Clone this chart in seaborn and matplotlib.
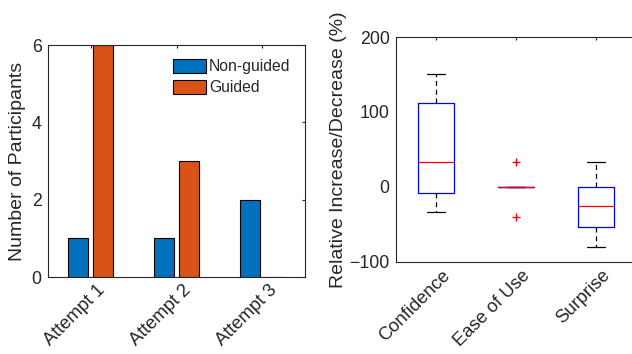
import numpy as np
import pandas as pd
import matplotlib
matplotlib.use('Agg')
import matplotlib.pyplot as plt
import matplotlib.transforms as mtrans
import seaborn as sns

# bar chart data (participants per attempt)
attempts = ['Attempt 1', 'Attempt 2', 'Attempt 3']
non_guided = [1, 1, 2]
guided = [6, 3, 0]

# box plot data (relative change, %)
measures = ['Confidence', 'Ease of Use', 'Surprise']
confidence = [-33.3, -25.0, -16.7, 16.7, 33.3, 33.3, 100.0, 116.7, 150.0, 150.0]
ease_of_use = [-40.0, 0, 0, 0, 0, 0, 0, 0, 0, 33.3]
surprise = [-80.0, -66.7, -57.1, -40.0, -25.0, -25.0, 0, 0, 25.0, 33.3]

sns.set_style('white')
plt.rcParams['font.family'] = ['Liberation Sans', 'DejaVu Sans']
axis_col = '#262626'

fig = plt.figure(figsize=(6.32, 3.54), dpi=100)
ax1 = fig.add_axes([48 / 632, 1 - 277 / 354, 257 / 632, 232 / 354])
ax2 = fig.add_axes([396 / 632, 1 - 262 / 354, 240 / 632, 225 / 354])

# 1. grouped bars
bar_df = pd.DataFrame({
    'attempt': attempts * 2,
    'count': non_guided + guided,
    'group': ['Non-guided'] * 3 + ['Guided'] * 3,
})
sns.barplot(data=bar_df, x='attempt', y='count', hue='group',
            palette=['#0072BD', '#D95319'], saturation=1,
            width=0.58, gap=0.2, edgecolor='black', linewidth=0.8, ax=ax1)
old = ax1.get_legend()
handles = old.legend_handles
labels = [t.get_text() for t in old.get_texts()]
ax1.legend(handles, labels, loc='upper left', bbox_to_anchor=(0.486, 0.94),
           frameon=False, borderpad=0, borderaxespad=0, handlelength=2.1,
           handleheight=1.0, handletextpad=0.2, labelspacing=0.35, fontsize=11.3)
ax1.set_xlim(-0.5, 2.5)
ax1.set_ylim(0, 6)
ax1.set_yticks([0, 2, 4, 6])
ax1.set_xlabel('')
ax1.set_ylabel('Number of Participants', fontsize=14, color=axis_col)

# 2. box plot
box_df = pd.DataFrame({
    'measure': np.repeat(measures, 10),
    'value': confidence + ease_of_use + surprise,
})
sns.boxplot(data=box_df, x='measure', y='value', ax=ax2, fill=False,
            width=0.45, whis=1.5, linewidth=0.9,
            boxprops=dict(color='blue'),
            medianprops=dict(color='red'),
            whiskerprops=dict(color='black', linestyle=(0, (4, 3))),
            capprops=dict(color='black'),
            flierprops=dict(marker='+', markeredgecolor='red', markersize=6))
ax2.set_xlim(-0.5, 2.5)
ax2.set_ylim(-100, 200)
ax2.set_yticks([-100, 0, 100, 200])
ax2.set_xlabel('')
ax2.set_ylabel('Relative Increase/Decrease (%)', fontsize=14, color=axis_col,
               labelpad=2)

shift = mtrans.ScaledTranslation(6 / 100, 0, fig.dpi_scale_trans)
for ax in (ax1, ax2):
    for s in ax.spines.values():
        s.set_visible(True)
        s.set_color(axis_col)
        s.set_linewidth(0.8)
    ax.tick_params(direction='in', length=2.5, width=0.8, top=True, right=True,
                   labelsize=12.8, colors=axis_col)
    ax.tick_params(axis='y', pad=4.5)
    ax.tick_params(axis='x', labelsize=13.2)
    for t in ax.get_xticklabels():
        t.set_rotation(45)
        t.set_ha('right')
        t.set_va('top')
        t.set_rotation_mode('anchor')
        t.set_transform(t.get_transform() + shift)

fig.savefig('out.png', dpi=100)
